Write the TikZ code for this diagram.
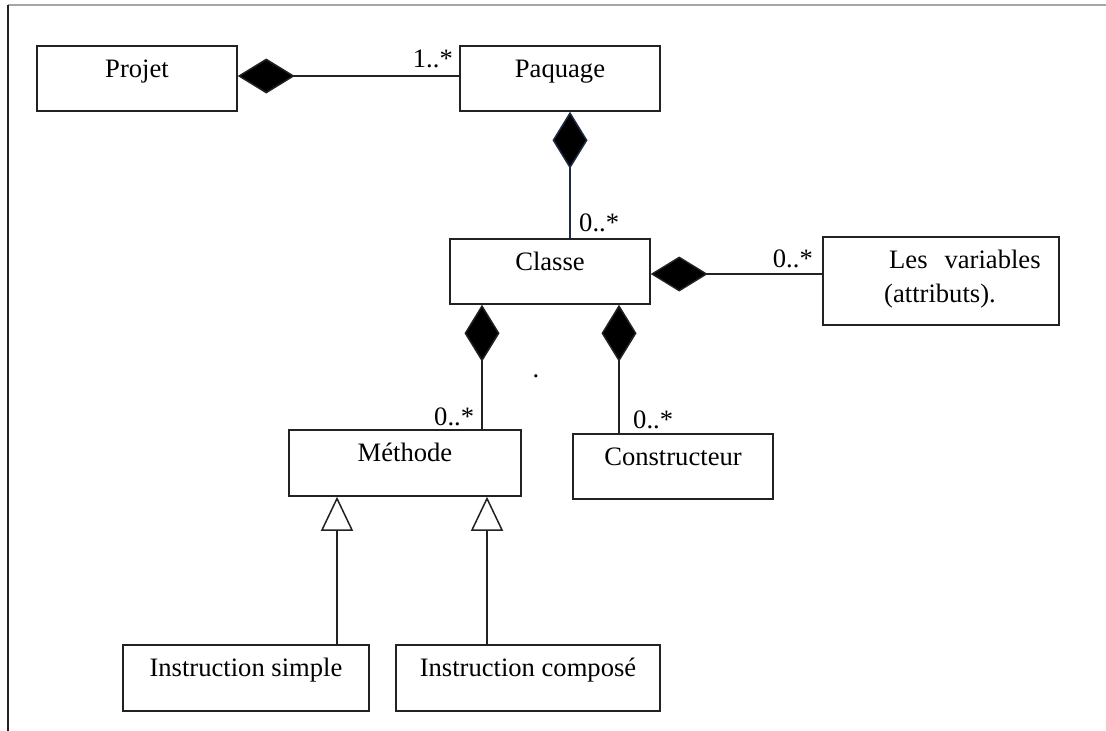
\documentclass[tikz,border=0pt]{standalone}
\usepackage{fontspec}
\setmainfont{Liberation Serif}
\usetikzlibrary{arrows.meta}
\definecolor{ink}{HTML}{222222}
\definecolor{navy}{HTML}{1F2A44}
\begin{document}
\begin{tikzpicture}[x=1pt,y=-1pt,
  font=\fontsize{26.6}{32}\selectfont,
  box/.style={draw=ink, line width=1.5pt, inner sep=0pt, text height=31pt, text depth=34pt},
  box66/.style={box, text depth=35pt},
  comp/.style={draw=ink, line width=1.5pt, -{Diamond[length=57pt,width=35pt,fill=black]}},
  gen/.style={draw=ink, line width=1.5pt, -{Triangle[open,length=34pt,width=32pt,fill=white]}},
  mult/.style={inner sep=0pt}]
\useasboundingbox (0,0) rectangle (1106,731);
% frame
\draw[gray!70, line width=1.2pt] (8,5) -- (1106,5);
\draw[ink, line width=1.2pt] (8,5) -- (8,731);
% boxes
\node[box, minimum width=200pt] (projet) at (137,78.5) {Projet};
\node[box, minimum width=200pt] (paquage) at (560,78.5) {Paquage};
\node[box, minimum width=200pt] (classe) at (550,271.5) {Classe};
\node[draw=ink, line width=1.5pt, inner sep=0pt, minimum width=236pt, minimum height=88pt] (var) at (941,281) {};
\node[anchor=base west, inner sep=0pt] (vart1) at (889,268) {Les\hspace{17pt}variables};
\node[anchor=base west, inner sep=0pt] (vart2) at (884,302) {(attributs).};
\node[box66, minimum width=232pt] (methode) at (405,463) {Méthode};
\node[box, minimum width=200pt] (constr) at (673,466.5) {Constructeur};
\node[box66, minimum width=246pt] (simple) at (246,678) {Instruction simple};
\node[box66, minimum width=264pt] (compose) at (528,678) {Instruction composé};
% helper coordinates
\coordinate (pp) at ([yshift=2.5pt]paquage.west);
\coordinate (cv) at ([yshift=-2.5pt]classe.east);
\coordinate (cp) at ([xshift=20pt]classe.north);
\coordinate (cm) at ([xshift=-68pt]classe.south);
\coordinate (cc) at ([xshift=69pt]classe.south);
\coordinate (gs) at ([xshift=91pt]simple.north);
\coordinate (gc) at ([xshift=-41pt]compose.north);
% compositions
\draw[comp] (pp) -- (projet.east |- pp);
\draw[comp, draw=navy] (cp) -- (paquage.south -| cp);
\draw[comp] (var.west |- cv) -- (cv);
\draw[comp] (methode.north -| cm) -- (cm);
\draw[comp] (constr.north -| cc) -- (cc);
% generalizations
\draw[gen] (gs) -- (methode.south -| gs);
\draw[gen] (gc) -- (methode.south -| gc);
% multiplicities
\node[mult, anchor=base east] (m1) at (453,67) {1..*};
\node[mult, anchor=base west] (m2) at (579,231) {0..*};
\node[mult, anchor=base east] (m3) at (813,267) {0..*};
\node[mult, anchor=base west] (m4) at (434,425) {0..*};
\node[mult, anchor=base west] (m5) at (633,428) {0..*};
\node[inner sep=0pt, anchor=base] (dot) at (536,377) {.};
\end{tikzpicture}
\end{document}
